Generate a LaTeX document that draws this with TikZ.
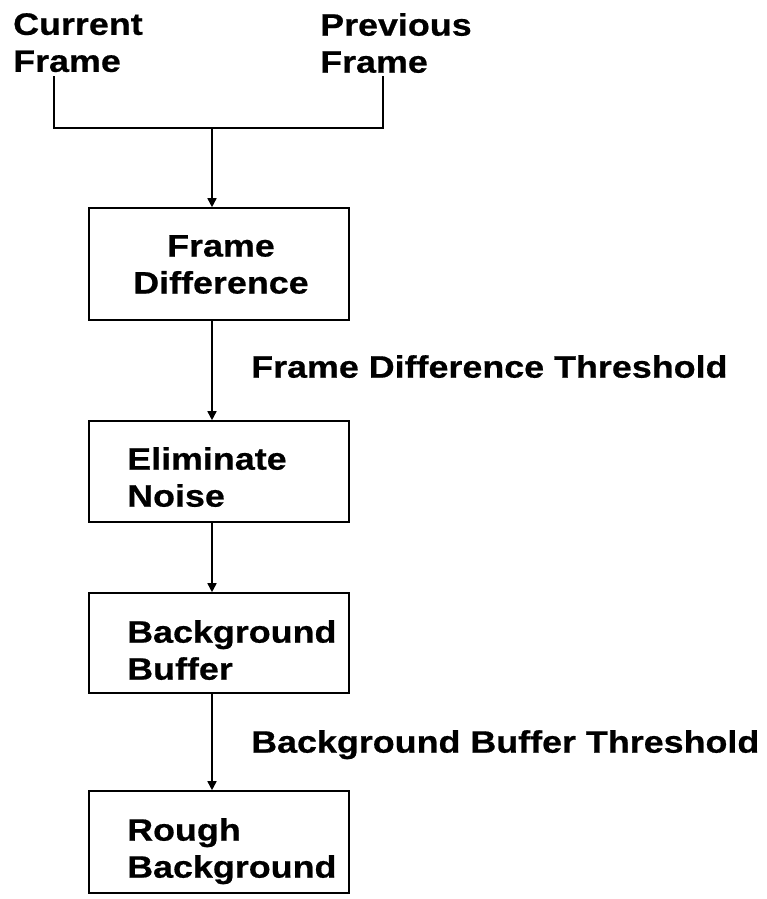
\documentclass[tikz,border=0pt]{standalone}
\usepackage{fontspec}
\setmainfont{Liberation Sans}[FakeStretch=1.157,FakeBold=0.6]
\usetikzlibrary{arrows.meta}
\tikzset{
  lbl/.style={font=\bfseries\fontsize{31}{37}\selectfont, align=left, inner sep=0pt, anchor=north west},
  boxnode/.style={draw, line width=1.6pt, minimum width=260pt, inner sep=0pt},
  link/.style={line width=1.6pt},
  arr/.style={line width=1.6pt, -{Triangle[length=9pt,width=9pt]}}
}
\begin{document}
\begin{tikzpicture}[x=1pt,y=-1pt]
\useasboundingbox[fill=white] (0,0) rectangle (767,899);
% top inputs
\node[lbl] (cur) at (13,13) {Current\\Frame};
\node[lbl] (prev) at (320,13) {Previous\\Frame};
\coordinate (cs) at (54,76);
\coordinate (ps) at (383,76);
\coordinate (j) at (212,128);
% boxes
\node[boxnode, minimum height=112pt] (fd) at (219,264) {};
\node[boxnode, minimum height=101pt] (en) at (219,471.5) {};
\node[boxnode, minimum height=100pt] (bb) at (219,643) {};
\node[boxnode, minimum height=102pt] (rb) at (219,842) {};
% box texts
\node[lbl, align=center, anchor=north] (fdt) at (221,235) {Frame\\Difference};
\node[lbl] (ent) at (127,447) {Eliminate\\Noise};
\node[lbl] (bbt) at (127,620) {Background\\Buffer};
\node[lbl] (rbt) at (127,818) {Rough\\Background};
% side labels
\node[lbl] (thr1) at (251,355) {Frame Difference Threshold};
\node[lbl] (thr2) at (251,730) {Background Buffer Threshold};
% connectors
\draw[link] (cs) |- (j) -| (ps);
\draw[arr] (j) -- (fd.north -| j);
\draw[arr] (fd.south -| j) -- (en.north -| j);
\draw[arr] (en.south -| j) -- (bb.north -| j);
\draw[arr] (bb.south -| j) -- (rb.north -| j);
\end{tikzpicture}
\end{document}
